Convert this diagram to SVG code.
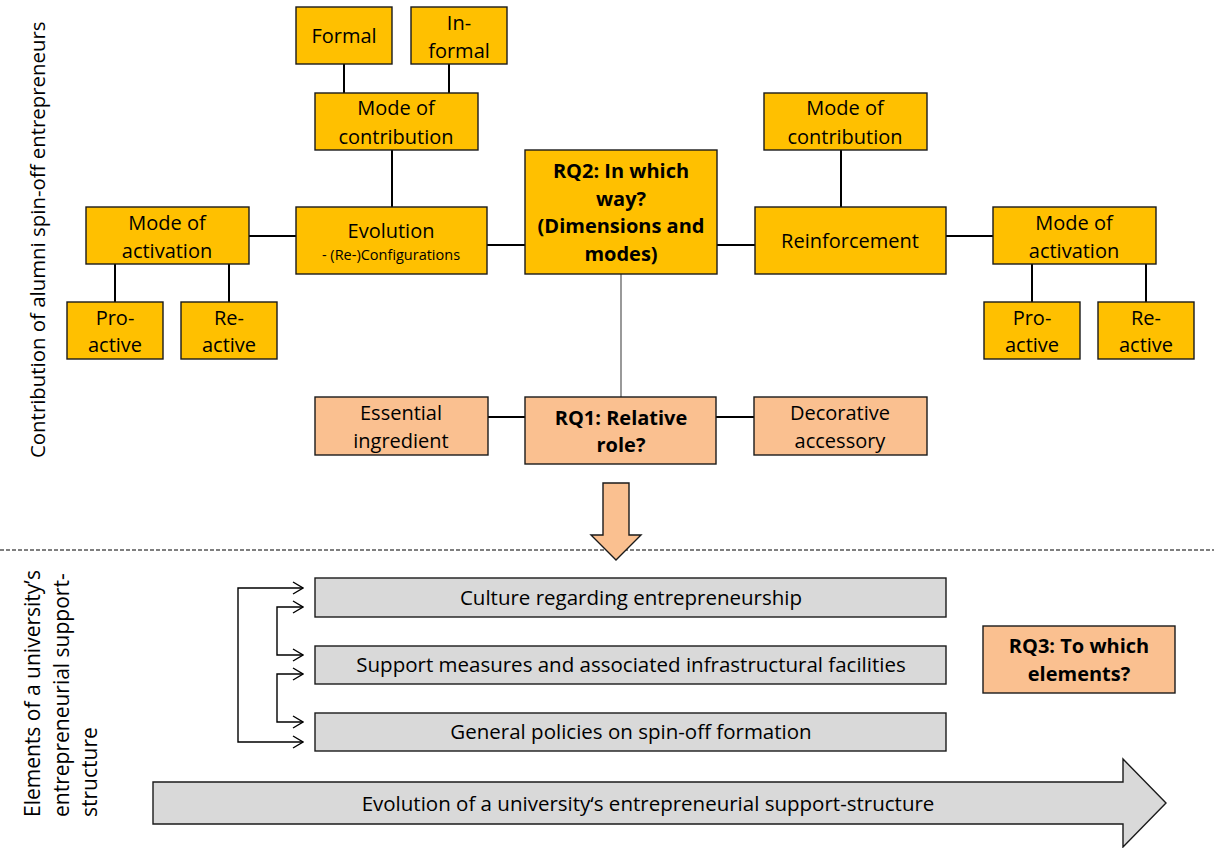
<svg xmlns="http://www.w3.org/2000/svg" width="1214" height="848" viewBox="0 0 1214 848">
  <style>
    .o { fill: #FFC000; stroke: #1a1a1a; stroke-width: 1.4; }
    .p { fill: #FAC090; stroke: #1a1a1a; stroke-width: 1.4; }
    .g { fill: #D9D9D9; stroke: #1a1a1a; stroke-width: 1.4; }
    .t { font-family: "Open Sans", "Liberation Sans", sans-serif; font-size: 20px; text-anchor: middle; fill: #000; }
    .b { font-weight: bold; }
    .s { font-size: 14.5px; }
    .m { font-size: 20.5px; }
    .side { font-family: "Open Sans", "Liberation Sans", sans-serif; font-size: 21px; fill: #000; }
    .ln { stroke: #000; stroke-width: 2; fill: none; }
    .thin { stroke: #000; stroke-width: 1.4; fill: none; }
  </style>
  <defs>
    <marker id="vhead" viewBox="0 0 12 14" refX="11" refY="7" markerWidth="12" markerHeight="14" markerUnits="userSpaceOnUse" orient="auto-start-reverse">
      <path d="M1,1 L11,7 L1,13" fill="none" stroke="#000" stroke-width="1.4"/>
    </marker>
  </defs>

  <rect width="1214" height="848" fill="#fff"/>

  <!-- side captions -->
  <text class="side" style="font-size:20.4px" transform="translate(45,458) rotate(-90)">Contribution of alumni spin-off entrepreneurs</text>
  <g class="side" transform="translate(0,817) rotate(-90)">
    <text x="0" y="40">Elements of a university’s</text>
    <text x="0" y="69">entrepreneurial support-</text>
    <text x="0" y="97">structure</text>
  </g>

  <!-- connectors -->
  <g id="connectors">
    <line class="ln" x1="344" y1="64" x2="344" y2="93"/>
    <line class="ln" x1="449" y1="64" x2="449" y2="93"/>
    <line class="ln" x1="392" y1="150" x2="392" y2="207"/>
    <line class="ln" x1="249" y1="236" x2="296" y2="236"/>
    <line class="ln" x1="115" y1="264" x2="115" y2="302"/>
    <line class="ln" x1="229" y1="264" x2="229" y2="302"/>
    <line class="ln" x1="487" y1="245" x2="525" y2="245"/>
    <line class="ln" x1="717" y1="245" x2="755" y2="245"/>
    <line class="ln" x1="841" y1="150" x2="841" y2="207"/>
    <line class="ln" x1="946" y1="236" x2="993" y2="236"/>
    <line class="ln" x1="1032" y1="264" x2="1032" y2="302"/>
    <line class="ln" x1="1146" y1="264" x2="1146" y2="302"/>
    <line x1="621" y1="274" x2="621" y2="397" stroke="#808080" stroke-width="1.6"/>
    <line class="ln" x1="488" y1="417" x2="525" y2="417"/>
    <line class="ln" x1="716" y1="417" x2="754" y2="417"/>
    <line x1="0" y1="550" x2="1214" y2="550" stroke="#000" stroke-width="1" stroke-dasharray="4,2"/>
    <path class="thin" d="M303,588 H238 V742 H303" marker-start="url(#vhead)" marker-end="url(#vhead)"/>
    <path class="thin" d="M303,607 H277 V655 H303" marker-start="url(#vhead)" marker-end="url(#vhead)"/>
    <path class="thin" d="M303,674 H277 V722 H303" marker-start="url(#vhead)" marker-end="url(#vhead)"/>
  </g>

  <!-- dimension tree -->
  <g id="formal"><rect class="o" x="296" y="7" width="96" height="57"/><text class="t" x="344" y="43">Formal</text></g>
  <g id="informal"><rect class="o" x="411" y="7" width="96" height="57"/><text class="t" x="459" y="30">In-</text><text class="t" x="459" y="58">formal</text></g>
  <g id="contribution-left"><rect class="o" x="315" y="93" width="163" height="57"/><text class="t" x="396" y="115">Mode of</text><text class="t" x="396" y="144">contribution</text></g>
  <g id="evolution"><rect class="o" x="296" y="207" width="191" height="67"/><text class="t" x="391" y="238">Evolution</text><text class="t s" x="391" y="260">- (Re-)Configurations</text></g>
  <g id="rq2"><rect class="o" x="525" y="150" width="192" height="124"/>
    <text class="t b" x="621" y="178">RQ2: In which</text>
    <text class="t b" x="621" y="206">way?</text>
    <text class="t b" x="621" y="233">(Dimensions and</text>
    <text class="t b" x="621" y="261">modes)</text></g>
  <g id="activation-left"><rect class="o" x="86" y="207" width="163" height="57"/><text class="t" x="167" y="230">Mode of</text><text class="t" x="167" y="258">activation</text></g>
  <g id="proactive-left"><rect class="o" x="67" y="302" width="96" height="57"/><text class="t" x="115" y="325">Pro-</text><text class="t" x="115" y="352">active</text></g>
  <g id="reactive-left"><rect class="o" x="181" y="302" width="96" height="57"/><text class="t" x="229" y="325">Re-</text><text class="t" x="229" y="352">active</text></g>
  <g id="contribution-right"><rect class="o" x="764" y="93" width="163" height="57"/><text class="t" x="845" y="115">Mode of</text><text class="t" x="845" y="144">contribution</text></g>
  <g id="reinforcement"><rect class="o" x="755" y="207" width="191" height="67"/><text class="t" x="850" y="248">Reinforcement</text></g>
  <g id="activation-right"><rect class="o" x="993" y="207" width="163" height="57"/><text class="t" x="1074" y="230">Mode of</text><text class="t" x="1074" y="258">activation</text></g>
  <g id="proactive-right"><rect class="o" x="984" y="302" width="96" height="57"/><text class="t" x="1032" y="325">Pro-</text><text class="t" x="1032" y="352">active</text></g>
  <g id="reactive-right"><rect class="o" x="1098" y="302" width="96" height="57"/><text class="t" x="1146" y="325">Re-</text><text class="t" x="1146" y="352">active</text></g>

  <!-- relative role -->
  <g id="essential"><rect class="p" x="315" y="397" width="173" height="58"/><text class="t" x="401" y="420">Essential</text><text class="t" x="401" y="448">ingredient</text></g>
  <g id="rq1"><rect class="p" x="525" y="397" width="191" height="67"/><text class="t b" x="621" y="425">RQ1: Relative</text><text class="t b" x="621" y="452">role?</text></g>
  <g id="decorative"><rect class="p" x="754" y="397" width="173" height="58"/><text class="t" x="840" y="420">Decorative</text><text class="t" x="840" y="448">accessory</text></g>
  <g id="down-arrow"><polygon class="p" points="603,483 629,483 629,535 641,535 616,560 591,535 603,535"/></g>

  <!-- support-structure elements -->
  <g id="culture"><rect class="g" x="315" y="578" width="631" height="39"/><text class="t m" x="631" y="605">Culture regarding entrepreneurship</text></g>
  <g id="support"><rect class="g" x="315" y="646" width="631" height="38"/><text class="t m" x="631" y="672">Support measures and associated infrastructural facilities</text></g>
  <g id="policies"><rect class="g" x="315" y="713" width="631" height="38"/><text class="t m" x="631" y="739">General policies on spin-off formation</text></g>
  <g id="rq3"><rect class="p" x="983" y="626" width="192" height="67"/><text class="t b" x="1079" y="653">RQ3: To which</text><text class="t b" x="1079" y="681">elements?</text></g>
  <g id="evolution-arrow"><polygon class="g" points="153,782 1123,782 1123,759 1166,803 1123,847 1123,824 153,824"/><text class="t m" x="648" y="811">Evolution of a university‘s entrepreneurial support-structure</text></g>
</svg>
